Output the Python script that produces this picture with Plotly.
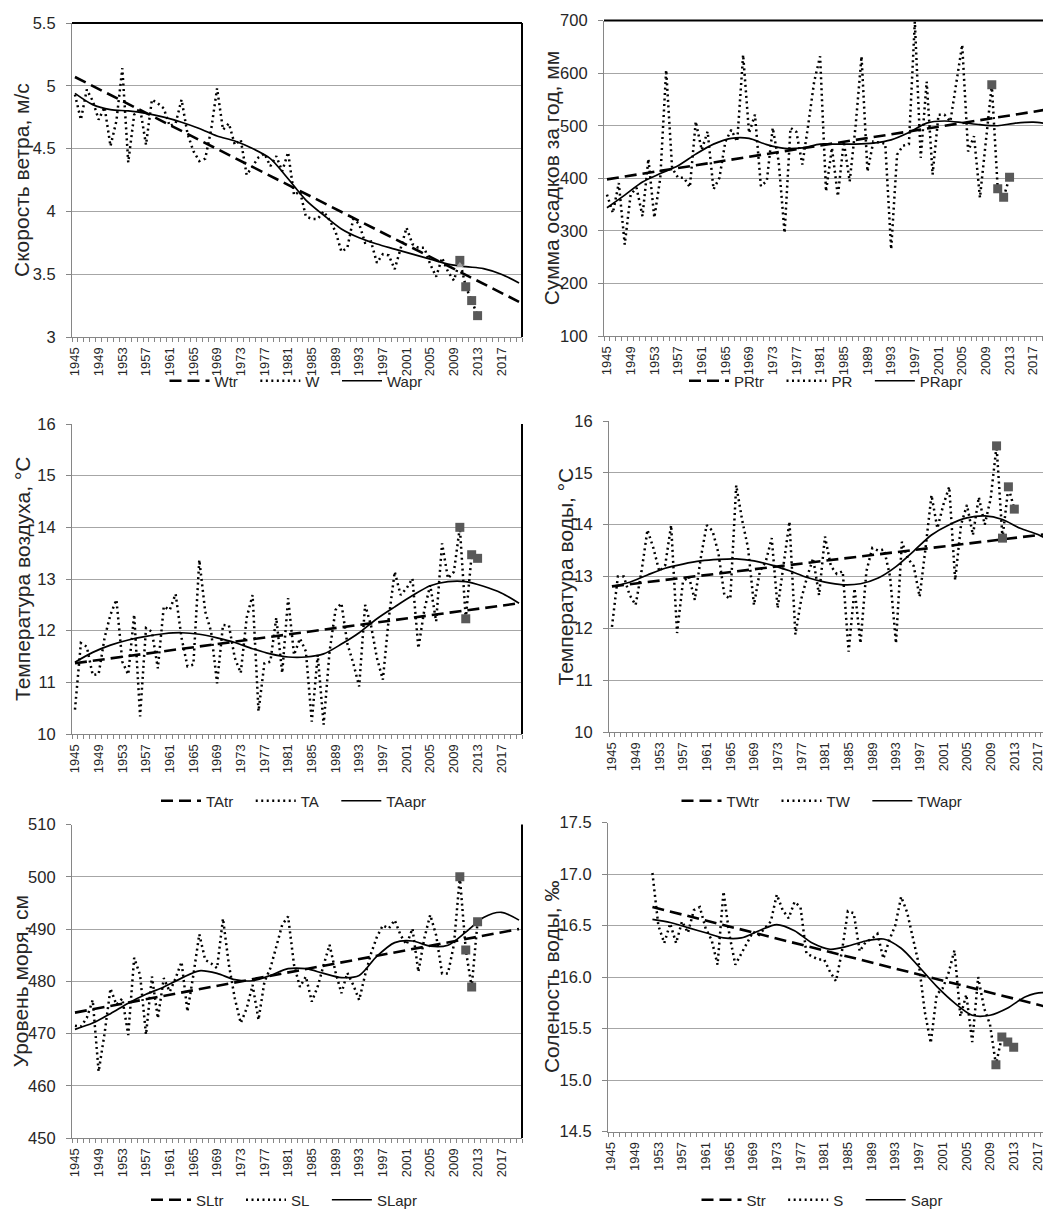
import plotly.graph_objects as go

# ---------------- data ----------------
years = list(range(1945, 2014))
years_S = list(range(1952, 2014))
sq_years = [2010, 2011, 2012, 2013]
tick_years = list(range(1945, 2018, 4))
trend_years = [1945, 2020]
trend_years_S = [1952, 2020]
apr_years = list(range(1945, 2021, 3))
apr_years_S = list(range(1952, 2019, 3)) + [2020]

W = [4.93, 4.73, 4.97, 4.88, 4.73, 4.83, 4.52, 4.72, 5.14, 4.39,
     4.77, 4.82, 4.53, 4.89, 4.86, 4.82, 4.68, 4.70, 4.89, 4.62,
     4.48, 4.40, 4.42, 4.65, 4.98, 4.65, 4.70, 4.53, 4.57, 4.29,
     4.36, 4.43, 4.46, 4.36, 4.44, 4.32, 4.47, 4.13, 4.16, 3.96,
     3.94, 3.94, 4.00, 3.93, 3.84, 3.68, 3.71, 3.94, 3.90, 3.75,
     3.76, 3.59, 3.66, 3.65, 3.54, 3.70, 3.87, 3.74, 3.71, 3.71,
     3.58, 3.48, 3.63, 3.52, 3.45, 3.61, 3.40, 3.29, 3.17]
Wtr = [5.07, 3.28]
Wapr = [4.94, 4.85, 4.81, 4.80, 4.78, 4.75, 4.71, 4.66, 4.60, 4.56,
        4.50, 4.42, 4.26, 4.09, 3.97, 3.86, 3.79, 3.74, 3.70, 3.66,
        3.62, 3.58, 3.56, 3.545, 3.50, 3.43]
W_mark_year = [2010]
W_mark = [3.57]

PR = [369, 334, 391, 274, 369, 382, 328, 437, 325, 400,
      606, 420, 401, 401, 383, 508, 454, 489, 379, 401,
      470, 492, 470, 635, 486, 521, 385, 395, 496, 432,
      296, 496, 488, 426, 502, 584, 632, 375, 458, 366,
      470, 394, 500, 632, 413, 470, 468, 466, 265, 445,
      462, 465, 698, 439, 584, 407, 521, 521, 508, 584,
      654, 451, 480, 363, 470, 578, 380, 364, 402]
PRtr = [398, 532]
PRapr = [344, 368, 393, 409, 424, 446, 465, 476, 476, 464,
         457, 458, 465, 465, 465, 467, 473, 487, 505, 509,
         506, 502, 500, 505, 507, 503]

TA = [10.47, 11.76, 11.69, 11.14, 11.16, 11.86, 12.31, 12.60, 11.40, 11.15,
      12.31, 10.34, 12.05, 11.98, 11.27, 12.47, 12.40, 12.71, 11.86, 11.31,
      11.34, 13.37, 12.37, 11.98, 10.98, 12.11, 12.10, 11.47, 11.18, 12.25,
      12.69, 10.44, 11.37, 11.40, 12.25, 11.18, 12.63, 11.53, 11.85, 11.60,
      10.24, 11.53, 10.18, 11.60, 12.40, 12.53, 11.75, 11.37, 10.92, 12.50,
      12.10, 11.47, 11.05, 12.24, 13.14, 12.69, 12.82, 13.01, 11.66, 12.40,
      12.88, 12.18, 13.69, 13.01, 13.14, 14.00, 12.23, 13.47, 13.40]
TAtr = [11.37, 12.53]
TAapr = [11.39, 11.58, 11.72, 11.82, 11.89, 11.94, 11.96, 11.93, 11.86, 11.77,
         11.65, 11.55, 11.49, 11.49, 11.55, 11.74, 11.96, 12.23, 12.46, 12.68,
         12.87, 12.95, 12.95, 12.86, 12.73, 12.53]

TW = [12.03, 13.00, 13.00, 12.64, 12.45, 13.10, 13.90, 13.55, 13.10, 13.22,
      13.99, 11.91, 12.90, 13.00, 12.55, 13.35, 13.99, 13.88, 13.45, 12.64,
      12.57, 14.76, 14.09, 13.55, 12.45, 13.10, 13.29, 13.74, 12.39, 13.22,
      14.06, 11.88, 12.57, 13.00, 13.35, 12.64, 13.77, 13.20, 13.05, 13.10,
      11.55, 12.77, 11.71, 13.10, 13.55, 13.50, 13.52, 13.00, 11.71, 13.67,
      13.35, 13.20, 12.61, 13.55, 14.57, 13.93, 14.38, 14.73, 12.93, 14.00,
      14.38, 13.80, 14.53, 14.00, 14.50, 15.52, 13.74, 14.73, 14.30]
TWtr = [12.81, 13.84]
TWapr = [12.81, 12.89, 13.03, 13.16, 13.24, 13.30, 13.33, 13.34, 13.30, 13.22,
         13.11, 12.98, 12.89, 12.84, 12.86, 12.97, 13.19, 13.49, 13.80, 14.00,
         14.13, 14.17, 14.10, 13.93, 13.81, 13.62]

SL = [471.5, 471.3, 473.0, 476.4, 462.7, 470.0, 478.6, 475.5, 476.7, 469.7,
      484.5, 481.2, 469.8, 480.9, 472.9, 480.6, 478.0, 480.6, 483.7, 474.2,
      481.2, 489.0, 484.1, 483.4, 482.5, 492.0, 483.1, 476.7, 472.0, 474.8,
      479.3, 472.6, 479.9, 482.5, 486.6, 490.8, 492.4, 483.1, 478.9, 480.9,
      476.1, 479.0, 483.1, 487.0, 481.8, 477.7, 481.6, 479.3, 476.4, 481.2,
      485.3, 488.5, 490.7, 490.1, 491.7, 488.8, 487.0, 490.1, 481.8, 488.2,
      492.7, 488.8, 481.5, 481.5, 487.0, 500.0, 486.0, 478.9, 491.4]
SLtr = [474.0, 490.0]
SLapr = [470.8, 472.0, 473.8, 475.8, 477.5, 478.9, 480.6, 482.0, 481.5, 480.3,
         480.1, 481.1, 482.4, 482.4, 481.5, 480.7, 481.1, 484.8, 487.4, 487.7,
         486.7, 486.9, 489.4, 492.2, 493.2, 491.7]

S = [17.01, 16.50, 16.33, 16.52, 16.33, 16.54, 16.43, 16.65, 16.68, 16.47,
     16.36, 16.12, 16.83, 16.41, 16.12, 16.23, 16.33, 16.44, 16.41, 16.47,
     16.54, 16.80, 16.65, 16.57, 16.73, 16.68, 16.23, 16.20, 16.17, 16.17,
     16.05, 15.96, 16.25, 16.64, 16.62, 16.25, 16.34, 16.37, 16.42, 16.18,
     16.36, 16.50, 16.78, 16.63, 16.36, 16.12, 15.66, 15.36, 15.83, 15.89,
     16.04, 16.26, 15.62, 15.83, 15.37, 16.00, 15.70, 15.54, 15.15, 15.42,
     15.37, 15.32]
Str = [16.68, 15.69]
Sapr = [16.56, 16.53, 16.48, 16.43, 16.38, 16.38, 16.45, 16.51, 16.45, 16.33,
        16.27, 16.30, 16.35, 16.37, 16.28, 16.10, 15.91, 15.75, 15.63, 15.63,
        15.70, 15.81, 15.85, 15.81]

# ---------------- layout helpers ----------------
FW, FH = 1051, 1210
OFF = 8  # page body margin
FONT = "Liberation Sans"
TXT = "#262626"
AX = "#868686"
GRID = "#a6a6a6"
PAD = "\u00a0\u00a0\u00a0"

def fx(p):
    return (p - OFF) / FW

def fy(p):
    return 1 - (p - OFF) / FH

panels = [
    dict(key="W", x=years, y=W, tr=Wtr, xtr=trend_years, apr=Wapr, xapr=apr_years,
         yr=[3, 5.5], dt=0.5, fmt="", title="Скорость ветра, м/с",
         px=(72, 522), py=(23, 337), xmax=2020.5, right=True, topline=True,
         tx=22, leg=(296, 381)),
    dict(key="PR", x=years, y=PR, tr=PRtr, xtr=trend_years, apr=PRapr, xapr=apr_years,
         yr=[100, 700], dt=100, fmt="", title="Сумма осадков за год, мм",
         px=(604, 1051), py=(20.6, 336), xmax=2020.0, right=False, topline=True,
         tx=551, leg=(826, 381)),
    dict(key="TA", x=years, y=TA, tr=TAtr, xtr=trend_years, apr=TAapr, xapr=apr_years,
         yr=[10, 16], dt=1, fmt="", title="Температура воздуха, °С",
         px=(72, 522), py=(424, 734), xmax=2020.5, right=True, topline=False,
         tx=22, leg=(294, 801)),
    dict(key="TW", x=years, y=TW, tr=TWtr, xtr=trend_years, apr=TWapr, xapr=apr_years,
         yr=[10, 16], dt=1, fmt="", title="Температура воды, °С",
         px=(609, 1051), py=(421, 732), xmax=2019.2, right=False, topline=False,
         tx=565, leg=(822, 801)),
    dict(key="SL", x=years, y=SL, tr=SLtr, xtr=trend_years, apr=SLapr, xapr=apr_years,
         yr=[450, 510], dt=10, fmt="", title="Уровень моря, см",
         px=(72, 522), py=(824.5, 1138), xmax=2020.5, right=True, topline=False,
         tx=20, leg=(284, 1200)),
    dict(key="S", x=years_S, y=S, tr=Str, xtr=trend_years_S, apr=Sapr, xapr=apr_years_S,
         yr=[14.5, 17.5], dt=0.5, fmt=".1f", title="Соленость воды, ‰",
         px=(608, 1051), py=(822.5, 1131.7), xmax=2019.3, right=False, topline=False,
         tx=551, leg=(822, 1200)),
]

fig = go.Figure()
layout = dict(
    width=FW, height=FH,
    margin=dict(l=0, r=0, t=0, b=0, pad=0, autoexpand=False),
    paper_bgcolor="white", plot_bgcolor="white",
    font=dict(family=FONT, size=14, color=TXT),
    shapes=[], annotations=[],
)

for i, p in enumerate(panels, start=1):
    xa = "x" if i == 1 else f"x{i}"
    ya = "y" if i == 1 else f"y{i}"
    lg = "legend" if i == 1 else f"legend{i}"
    k = p["key"]
    # trend (dashed)
    fig.add_trace(go.Scatter(
        x=p["xtr"], y=p["tr"], mode="lines", name=k + "tr" + PAD,
        line=dict(color="black", width=2.6, dash="12px,6px"),
        xaxis=xa, yaxis=ya, legend=lg, hoverinfo="skip"))
    # observed (dotted)
    fig.add_trace(go.Scatter(
        x=p["x"], y=p["y"], mode="lines", name=k + PAD,
        line=dict(color="black", width=2.5, dash="2px,3.5px"),
        xaxis=xa, yaxis=ya, legend=lg))
    # approximation (solid)
    fig.add_trace(go.Scatter(
        x=p["xapr"], y=p["apr"], mode="lines", name=k + "apr",
        line=dict(color="black", width=1.7, shape="spline", smoothing=0.8),
        xaxis=xa, yaxis=ya, legend=lg))
    # recent-year squares
    fig.add_trace(go.Scatter(
        x=sq_years, y=p["y"][-4:], mode="markers", showlegend=False,
        marker=dict(symbol="square", size=9, color="#595959"),
        xaxis=xa, yaxis=ya))
    if k == "W":
        fig.add_trace(go.Scatter(
            x=W_mark_year, y=W_mark, mode="markers", showlegend=False,
            marker=dict(symbol="triangle-up", size=7, color="#a0a0a0"),
            xaxis=xa, yaxis=ya))

    axn = "" if i == 1 else str(i)
    layout["xaxis" + axn] = dict(
        domain=[fx(p["px"][0]), fx(p["px"][1])], anchor=ya,
        range=[1944.5, p["xmax"]], automargin=False,
        tickmode="array", tickvals=tick_years, ticktext=[str(t) for t in tick_years],
        tickangle=-90, ticks="", ticklabelstandoff=4,
        tickfont=dict(size=13, color=TXT),
        showline=True, linecolor=AX, linewidth=1.2,
        showgrid=False, zeroline=False,
        minor=dict(ticks="outside", ticklen=4, tickcolor=AX, tick0=1944.5, dtick=1,
                   showgrid=False),
    )
    layout["yaxis" + axn] = dict(
        domain=[fy(p["py"][1]), fy(p["py"][0])], anchor=xa,
        range=p["yr"], tick0=p["yr"][0], dtick=p["dt"], tickformat=p["fmt"],
        automargin=False,
        ticks="outside", ticklen=5, tickcolor=AX, ticklabelstandoff=7,
        tickfont=dict(size=16.5, color=TXT),
        showline=True, linecolor=AX, linewidth=1.2,
        showgrid=True, gridcolor=GRID, gridwidth=1, zeroline=False,
    )
    layout[lg] = dict(
        orientation="h", x=fx(p["leg"][0]), y=fy(p["leg"][1]),
        xanchor="center", yanchor="middle", bgcolor="rgba(0,0,0,0)",
        font=dict(size=15, color=TXT), itemwidth=40, tracegroupgap=0,
    )
    if p["topline"]:
        layout["shapes"].append(dict(
            type="line", xref=xa + " domain", yref=ya + " domain",
            x0=0, x1=1, y0=1, y1=1, line=dict(color="black", width=2)))
    if p["right"]:
        layout["shapes"].append(dict(
            type="line", xref=xa + " domain", yref=ya + " domain",
            x0=1, x1=1, y0=0, y1=1, line=dict(color="black", width=2)))
    layout["annotations"].append(dict(
        text=p["title"], xref="paper", yref="paper",
        x=fx(p["tx"]), y=(fy(p["py"][0]) + fy(p["py"][1])) / 2,
        xanchor="center", yanchor="middle", textangle=-90, showarrow=False,
        font=dict(size=21, color=TXT, family=FONT)))

fig.update_layout(**layout)
fig.write_html("out.html")
